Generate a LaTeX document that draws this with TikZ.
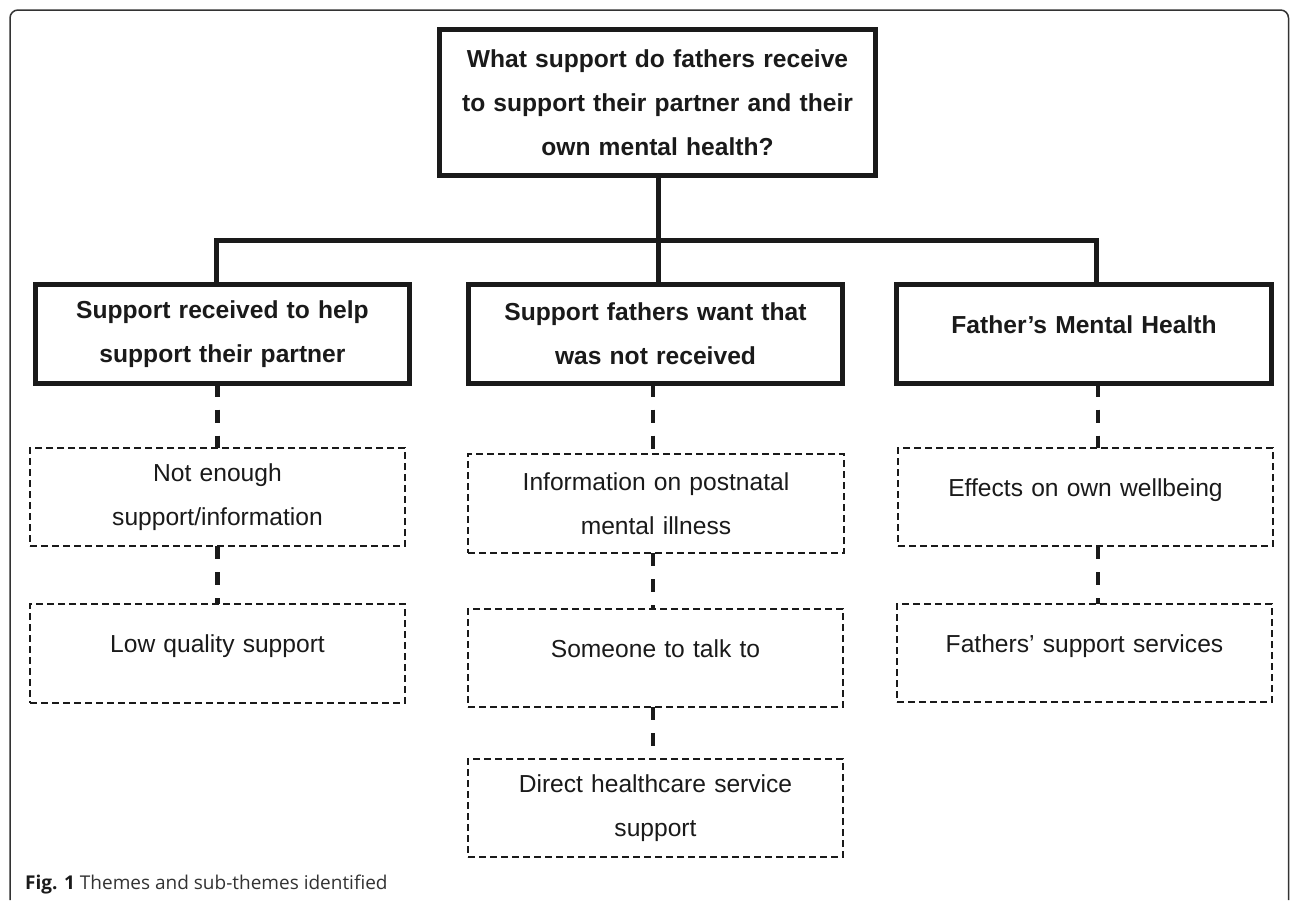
\documentclass[tikz,border=0pt]{standalone}
\usepackage{fontspec}
\newfontfamily\arial{Liberation Sans}
\newfontfamily\capfont{Open Sans}
\definecolor{ink}{HTML}{1A1A1A}
\begin{document}
\begin{tikzpicture}[x=1pt,y=-1pt,
  theme/.style={draw=ink, line width=5pt, minimum width=374pt, minimum height=99pt,
    inner sep=0pt, outer sep=0pt, text width=370pt, align=center,
    font=\arial\bfseries\fontsize{24.6}{44}\selectfont, text=ink},
  sub/.style={draw=ink, line width=1.5pt, dash pattern=on 7pt off 4pt,
    minimum width=375pt, minimum height=98pt, inner sep=0pt, outer sep=0pt,
    text width=370pt, align=center, font=\arial\fontsize{24.6}{44}\selectfont, text=ink},
  one/.style={text height=18pt, text depth=20pt},
  tree/.style={draw=ink, line width=5pt},
  link/.style={draw=ink, line width=4.5pt, dash pattern=on 13pt off 13pt}]
\useasboundingbox[fill=white] (0,0) rectangle (1290,900);

% frame
\draw[black!80, line width=1.5pt, rounded corners=8pt] (10,900) -- (10,10) -- (1288.5,10) -- (1288.5,900);

% question
\node[theme, minimum width=436pt, minimum height=146pt, text width=430pt] (q) at (657.5,102.5)
  {What support do fathers receive\\to support their partner and their\\own mental health?};

% themes
\node[theme] (t1) at (222.5,334) {Support received to help\\support their partner};
\node[theme] (t2) at (655.5,334) {Support fathers want that\\was not received};
\node[theme, one, minimum width=375pt] (t3) at (1084,334) {Father’s Mental Health};

% sub-themes
\node[sub] (a1) at (217.5,497) {Not enough\\support/information};
\node[sub, one, minimum height=99pt] (a2) at (217.5,653.5) {Low quality support};
\node[sub, minimum width=376pt, minimum height=99pt] (b1) at (656,503.5) {Information on postnatal\\mental illness};
\node[sub, one] (b2) at (655.5,658) {Someone to talk to};
\node[sub] (b3) at (655.5,808) {Direct healthcare service\\support};
\node[sub, one] (c1) at (1085.5,497) {Effects on own wellbeing};
\node[sub, one] (c2) at (1084.5,653) {Fathers’ support services};

% tree connectors
\coordinate (bar) at (658,240);
\draw[tree] (bar |- q.south) -- (bar) -- (bar |- t2.north);
\draw[tree] ([xshift=-6pt]t1.north) |- (bar) -| ([xshift=12pt]t3.north);

% dashed links
\draw[link] (a1.north |- t1.south) -- (a1.north);
\draw[link] (a1.south) -- (a2.north);
\draw[link] ([xshift=-3pt]b1.north |- t2.south) -- ([xshift=-3pt]b1.north);
\draw[link] ([xshift=-3pt]b1.south) -- ([xshift=-2.5pt]b2.north);
\draw[link] ([xshift=-2.5pt]b2.south) -- ([xshift=-2.5pt]b3.north);
\draw[link] ([xshift=12.5pt]c1.north |- t3.south) -- ([xshift=12.5pt]c1.north);
\draw[link] ([xshift=12.5pt]c1.south) -- ([xshift=13.5pt]c2.north);

% caption
\node[anchor=base west, inner sep=0pt, font=\capfont\fontsize{19}{22}\selectfont, text=black!80] (cap) at (25,889)
  {{\bfseries\color{ink}Fig. 1} Themes and sub-themes identified};
\end{tikzpicture}
\end{document}
